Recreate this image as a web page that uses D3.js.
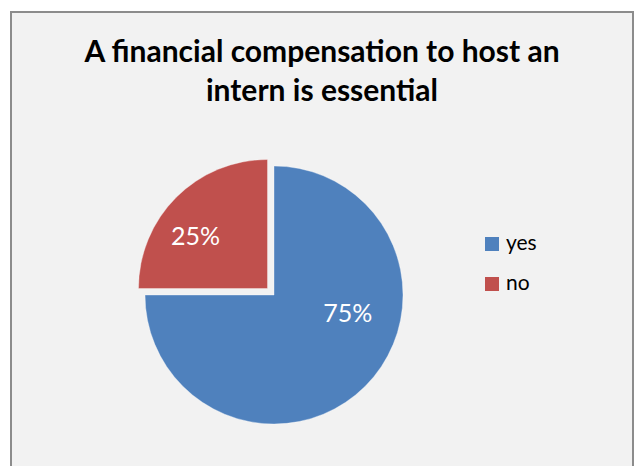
<!DOCTYPE html>
<html>
<head>
<meta charset="utf-8">
<script src="https://cdn.jsdelivr.net/npm/d3@7"></script>
<style>
  body { margin: 0; background: #fff; }
  svg { display: block; font-family: Lato, "Open Sans", sans-serif; }
</style>
</head>
<body>
<div id="chart"></div>
<script>
const categories = ["yes", "no"];
const values = [75, 25];
const colors = ["#4F81BD", "#C0504D"];
const titleLines = ["A financial compensation to host an", "intern is essential"];

const width = 638, height = 466;

const svg = d3.select("#chart")
  .append("svg")
  .attr("width", width)
  .attr("height", height);

// chart area with grey frame
svg.append("rect")
  .attr("x", 11)
  .attr("y", 12)
  .attr("width", 622)
  .attr("height", 480)
  .attr("fill", "#f2f2f2")
  .attr("stroke", "#8c8c8c")
  .attr("stroke-width", 2);

// title
svg.append("text")
  .attr("text-anchor", "middle")
  .style("font-size", "30px")
  .style("font-weight", "bold")
  .attr("fill", "#000")
  .selectAll("tspan")
  .data(titleLines)
  .enter().append("tspan")
  .attr("x", 322)
  .attr("y", (d, i) => 62 + i * 39)
  .text(d => d);

const radius = 129;
const cx = 274, cy = 295;
const explode = 9.2; // the "no" slice is pulled out

const pie = d3.pie().sort(null).value(d => d.value);
const arc = d3.arc().innerRadius(0).outerRadius(radius);

const data = categories.map((c, i) => ({ name: c, value: values[i], color: colors[i] }));
const arcs = pie(data);

const g = svg.append("g").attr("transform", `translate(${cx},${cy})`);

const slices = g.selectAll("g.slice")
  .data(arcs)
  .enter().append("g")
  .attr("class", "slice")
  .attr("transform", d => {
    if (d.data.name !== "no") return null;
    const mid = (d.startAngle + d.endAngle) / 2;
    return `translate(${Math.sin(mid) * explode},${-Math.cos(mid) * explode})`;
  });

slices.append("path")
  .attr("d", arc)
  .attr("fill", d => d.data.color)
  .attr("stroke", "#ffffff")
  .attr("stroke-opacity", 0.35)
  .attr("stroke-width", 1);

// data labels (angle clockwise from 12 o'clock, distance from slice centre)
const labelAt = { yes: { angle: 104, dist: 76 }, no: { angle: 306, dist: 89 } };

slices.append("text")
  .attr("text-anchor", "middle")
  .attr("dy", "0.35em")
  .attr("x", d => Math.sin(labelAt[d.data.name].angle * Math.PI / 180) * labelAt[d.data.name].dist)
  .attr("y", d => -Math.cos(labelAt[d.data.name].angle * Math.PI / 180) * labelAt[d.data.name].dist)
  .attr("fill", "#fff")
  .style("font-size", "25px")
  .text(d => d3.format(".0%")(d.data.value / d3.sum(values)));

// legend
const legend = svg.append("g").attr("transform", "translate(485,237)");

const item = legend.selectAll("g")
  .data(data)
  .enter().append("g")
  .attr("transform", (d, i) => `translate(0,${i * 40})`);

item.append("rect")
  .attr("width", 14)
  .attr("height", 14)
  .attr("fill", d => d.color);

item.append("text")
  .attr("x", 21)
  .attr("y", 13)
  .style("font-size", "21px")
  .attr("fill", "#000")
  .text(d => d.name);
</script>
</body>
</html>
